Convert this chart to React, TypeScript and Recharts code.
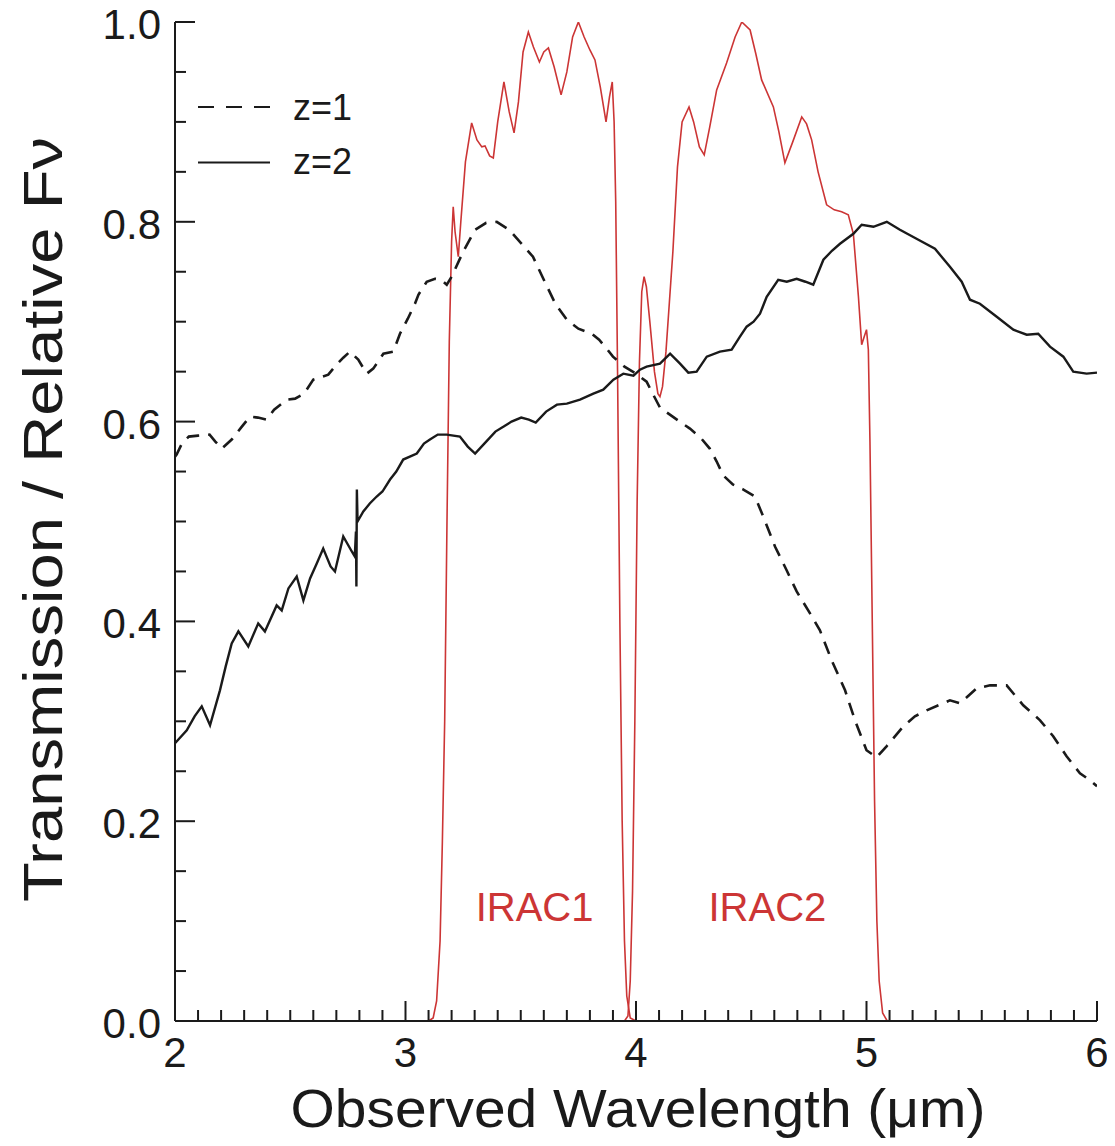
import React from 'react';
import { LineChart, Line, XAxis, YAxis } from 'recharts';

// ---------- data (wavelength in micron, relative value) ----------
const z1Points: [number, number][] = [
  [2.0, 0.565], [2.007, 0.567], [2.03, 0.578], [2.06, 0.585], [2.1, 0.586], [2.15, 0.587],
  [2.175, 0.58], [2.203, 0.573], [2.246, 0.582], [2.29, 0.595], [2.325, 0.605], [2.36, 0.604],
  [2.398, 0.602], [2.43, 0.612], [2.485, 0.622], [2.521, 0.623], [2.56, 0.628], [2.6, 0.642],
  [2.665, 0.647], [2.701, 0.657], [2.73, 0.664], [2.759, 0.67], [2.795, 0.662], [2.832, 0.648],
  [2.86, 0.653], [2.904, 0.668], [2.947, 0.67], [2.976, 0.688], [3.01, 0.703], [3.041, 0.718],
  [3.056, 0.727], [3.092, 0.74], [3.128, 0.743], [3.155, 0.742], [3.179, 0.737], [3.2, 0.745],
  [3.25, 0.77], [3.302, 0.792], [3.35, 0.799], [3.396, 0.8], [3.45, 0.792], [3.504, 0.778],
  [3.553, 0.765], [3.6, 0.742], [3.65, 0.718], [3.7, 0.702], [3.75, 0.693], [3.808, 0.688],
  [3.84, 0.682], [3.873, 0.673], [3.9, 0.665], [3.95, 0.655], [4.0, 0.648], [4.046, 0.64],
  [4.068, 0.63], [4.104, 0.614], [4.147, 0.607], [4.19, 0.6], [4.234, 0.593], [4.28, 0.584],
  [4.32, 0.573], [4.35, 0.56], [4.379, 0.546], [4.42, 0.537], [4.466, 0.532], [4.516, 0.525],
  [4.552, 0.505], [4.603, 0.475], [4.654, 0.451], [4.697, 0.43], [4.755, 0.408], [4.798, 0.391],
  [4.849, 0.361], [4.907, 0.331], [4.95, 0.301], [5.0, 0.271], [5.044, 0.264], [5.087, 0.275],
  [5.16, 0.295], [5.21, 0.305], [5.261, 0.311], [5.362, 0.321], [5.406, 0.318], [5.478, 0.333],
  [5.536, 0.336], [5.608, 0.336], [5.68, 0.316], [5.753, 0.301], [5.81, 0.285], [5.868, 0.265],
  [5.926, 0.248], [5.97, 0.241], [6.0, 0.235],
];

const z2Points: [number, number][] = [
  [2.0, 0.278], [2.051, 0.291], [2.085, 0.305], [2.116, 0.315], [2.152, 0.296], [2.195, 0.331],
  [2.22, 0.355], [2.246, 0.378], [2.275, 0.39], [2.318, 0.375], [2.361, 0.398], [2.39, 0.39],
  [2.441, 0.416], [2.463, 0.411], [2.492, 0.433], [2.528, 0.445], [2.557, 0.421], [2.586, 0.443],
  [2.615, 0.458], [2.643, 0.473], [2.675, 0.455], [2.694, 0.45], [2.73, 0.485], [2.767, 0.47],
  [2.78, 0.465], [2.785, 0.49], [2.787, 0.435], [2.789, 0.532], [2.792, 0.5], [2.817, 0.51],
  [2.845, 0.518], [2.875, 0.525], [2.9, 0.53], [2.933, 0.542], [2.96, 0.55], [2.99, 0.562],
  [3.049, 0.568], [3.08, 0.578], [3.106, 0.582], [3.14, 0.587], [3.179, 0.587], [3.236, 0.585],
  [3.27, 0.575], [3.302, 0.568], [3.35, 0.58], [3.39, 0.59], [3.426, 0.595], [3.46, 0.6],
  [3.502, 0.604], [3.535, 0.602], [3.565, 0.599], [3.61, 0.61], [3.657, 0.617], [3.7, 0.618],
  [3.757, 0.622], [3.815, 0.628], [3.858, 0.632], [3.902, 0.642], [3.945, 0.648], [3.989, 0.646],
  [4.017, 0.652], [4.046, 0.655], [4.104, 0.658], [4.148, 0.668], [4.191, 0.658], [4.227, 0.649],
  [4.263, 0.65], [4.307, 0.665], [4.364, 0.67], [4.415, 0.672], [4.451, 0.685], [4.48, 0.695],
  [4.51, 0.7], [4.538, 0.708], [4.567, 0.725], [4.617, 0.742], [4.654, 0.74], [4.697, 0.743],
  [4.735, 0.74], [4.769, 0.737], [4.813, 0.762], [4.85, 0.771], [4.885, 0.778], [4.943, 0.788],
  [4.979, 0.797], [5.03, 0.795], [5.088, 0.8], [5.145, 0.792], [5.217, 0.783], [5.297, 0.773],
  [5.362, 0.755], [5.413, 0.74], [5.449, 0.722], [5.492, 0.718], [5.565, 0.705], [5.637, 0.692],
  [5.695, 0.687], [5.745, 0.688], [5.796, 0.675], [5.854, 0.665], [5.897, 0.65], [5.955, 0.648],
  [6.0, 0.649],
];

const irac1Points: [number, number][] = [
  [2.85, 0], [3.1, 0], [3.12, 0.003], [3.135, 0.02], [3.15, 0.08], [3.16, 0.18], [3.17, 0.3],
  [3.18, 0.5], [3.19, 0.68], [3.2, 0.78], [3.207, 0.815], [3.215, 0.79], [3.229, 0.765],
  [3.24, 0.8], [3.26, 0.86], [3.287, 0.899], [3.31, 0.882], [3.331, 0.875], [3.345, 0.876],
  [3.365, 0.866], [3.381, 0.864], [3.4, 0.9], [3.427, 0.94], [3.45, 0.91], [3.471, 0.889],
  [3.49, 0.92], [3.51, 0.97], [3.533, 0.99], [3.555, 0.975], [3.581, 0.96], [3.6, 0.97],
  [3.62, 0.974], [3.645, 0.955], [3.675, 0.927], [3.7, 0.95], [3.725, 0.985], [3.75, 1.0],
  [3.775, 0.985], [3.8, 0.972], [3.822, 0.962], [3.845, 0.935], [3.87, 0.9], [3.885, 0.925],
  [3.897, 0.94], [3.905, 0.9], [3.912, 0.82], [3.92, 0.65], [3.93, 0.4], [3.94, 0.2],
  [3.95, 0.08], [3.96, 0.025], [3.975, 0.003], [4.0, 0], [4.2, 0],
];

const irac2Points: [number, number][] = [
  [3.6, 0], [3.95, 0], [3.965, 0.005], [3.975, 0.04], [3.985, 0.13], [3.995, 0.3], [4.005, 0.52],
  [4.015, 0.66], [4.025, 0.73], [4.035, 0.745], [4.045, 0.735], [4.06, 0.7], [4.08, 0.65],
  [4.095, 0.628], [4.104, 0.625], [4.115, 0.635], [4.13, 0.67], [4.145, 0.72], [4.16, 0.77],
  [4.18, 0.855], [4.2, 0.9], [4.23, 0.915], [4.25, 0.9], [4.275, 0.875], [4.296, 0.867],
  [4.32, 0.895], [4.35, 0.932], [4.393, 0.959], [4.43, 0.985], [4.459, 1.0], [4.495, 0.992],
  [4.52, 0.968], [4.545, 0.942], [4.596, 0.915], [4.62, 0.89], [4.646, 0.859], [4.68, 0.88],
  [4.719, 0.905], [4.74, 0.898], [4.762, 0.882], [4.79, 0.85], [4.827, 0.817], [4.86, 0.812],
  [4.892, 0.81], [4.921, 0.807], [4.943, 0.788], [4.965, 0.725], [4.979, 0.677], [4.99, 0.685],
  [5.0, 0.692], [5.008, 0.672], [5.015, 0.58], [5.025, 0.4], [5.035, 0.22], [5.045, 0.1],
  [5.055, 0.04], [5.07, 0.008], [5.09, 0], [5.45, 0],
];

const xMajorTicks = [2, 3, 4, 5, 6];
const yMajorTicks = [0, 0.2, 0.4, 0.6, 0.8, 1.0];
const xAllTicks = Array.from({ length: 41 }, (_, i) => Math.round(20 + i) / 10);
const yAllTicks = Array.from({ length: 21 }, (_, i) => Math.round(i * 5) / 100);

const legendItems = [
  { label: 'z=1', dash: '16 12' },
  { label: 'z=2', dash: undefined as string | undefined },
];
const bandLabels = [
  { label: 'IRAC1', x: 3.56 },
  { label: 'IRAC2', x: 4.57 },
];

const toXY = (pts: [number, number][]) => pts.map(([x, y]) => ({ x, y }));
const z1Data = toXY(z1Points);
const z2Data = toXY(z2Points);
const irac1Data = toXY(irac1Points);
const irac2Data = toXY(irac2Points);

// ---------- layout (chart sits at page y = 0, x = 8) ----------
const W = 1100;
const H = 1143;
const M = { top: 22, right: 11, bottom: 0, left: 0 };
const LEFT_W = 167;
const BOTTOM_H = 122;
const PLOT_L = M.left + LEFT_W;
const PLOT_R = W - M.right;
const PLOT_T = M.top;
const PLOT_B = H - BOTTOM_H;
const xToPx = (v: number) => PLOT_L + ((v - 2) / 4) * (PLOT_R - PLOT_L);

const FONT = '"Liberation Sans", Arial, Helvetica, sans-serif';
const INK = '#1a1a1a';
const RED = '#cc3535';
const MAJOR = 20;
const MINOR = 11;
const TICK_FONT = 42;

const isXMajor = (v: number) => xMajorTicks.includes(Math.round(v * 10) / 10);
const isYMajor = (v: number) => yMajorTicks.includes(Math.round(v * 100) / 100);

const BottomTick = (p: any) => {
  const { x, y, payload } = p;
  const major = isXMajor(payload.value);
  return (
    <g>
      <line x1={x} y1={y} x2={x} y2={y - (major ? MAJOR : MINOR)} stroke={INK} strokeWidth={2} />
      {major && (
        <text x={x} y={y + 46} textAnchor="middle" fontSize={TICK_FONT} fontFamily={FONT} fill={INK}>
          {String(payload.value)}
        </text>
      )}
    </g>
  );
};
const TopTick = (p: any) => {
  const { x, y, payload } = p;
  const major = isXMajor(payload.value);
  return <line x1={x} y1={y} x2={x} y2={y + (major ? MAJOR : MINOR)} stroke={INK} strokeWidth={2} />;
};
const LeftTick = (p: any) => {
  const { x, y, payload } = p;
  const major = isYMajor(payload.value);
  return (
    <g>
      <line x1={x} y1={y} x2={x + (major ? MAJOR : MINOR)} y2={y} stroke={INK} strokeWidth={2} />
      {major && (
        <text x={x - 14} y={y + 17} textAnchor="end" fontSize={TICK_FONT} fontFamily={FONT} fill={INK}>
          {Number(payload.value).toFixed(1)}
        </text>
      )}
    </g>
  );
};
const RightTick = (p: any) => {
  const { x, y, payload } = p;
  const major = isYMajor(payload.value);
  return <line x1={x} y1={y} x2={x - (major ? MAJOR : MINOR)} y2={y} stroke={INK} strokeWidth={2} />;
};

const axisLine = { stroke: INK, strokeWidth: 2 };

export default function App() {
  return (
    <div style={{ width: W, height: H, background: '#fff', marginTop: -8 }}>
      <LineChart width={W} height={H} margin={M}>
        <XAxis
          xAxisId="bottom"
          dataKey="x"
          type="number"
          domain={[2, 6]}
          allowDataOverflow
          ticks={xAllTicks}
          interval={0}
          tickSize={0}
          tickMargin={0}
          tickLine={false}
          axisLine={axisLine}
          height={BOTTOM_H}
          tick={BottomTick}
        />
        <XAxis
          xAxisId="top"
          orientation="top"
          dataKey="x"
          type="number"
          domain={[2, 6]}
          allowDataOverflow
          ticks={xAllTicks}
          interval={0}
          tickSize={0}
          tickMargin={0}
          tickLine={false}
          axisLine={axisLine}
          height={0}
          tick={TopTick}
        />
        <YAxis
          yAxisId="left"
          type="number"
          domain={[0, 1]}
          allowDataOverflow
          ticks={yAllTicks}
          interval={0}
          tickSize={0}
          tickMargin={0}
          tickLine={false}
          axisLine={axisLine}
          width={LEFT_W}
          tick={LeftTick}
        />
        <YAxis
          yAxisId="right"
          orientation="right"
          type="number"
          domain={[0, 1]}
          allowDataOverflow
          ticks={yAllTicks}
          interval={0}
          tickSize={0}
          tickMargin={0}
          tickLine={false}
          axisLine={axisLine}
          width={0}
          tick={RightTick}
        />
        <Line xAxisId="bottom" yAxisId="left" data={irac1Data} dataKey="y" type="linear" dot={false}
          stroke={RED} strokeWidth={1.6} isAnimationActive={false} />
        <Line xAxisId="bottom" yAxisId="left" data={irac2Data} dataKey="y" type="linear" dot={false}
          stroke={RED} strokeWidth={1.6} isAnimationActive={false} />
        <Line xAxisId="bottom" yAxisId="left" data={z1Data} dataKey="y" type="linear" dot={false}
          stroke={INK} strokeWidth={2.6} strokeDasharray="13 9" isAnimationActive={false} />
        <Line xAxisId="bottom" yAxisId="left" data={z2Data} dataKey="y" type="linear" dot={false}
          stroke={INK} strokeWidth={2.4} isAnimationActive={false} />

        {/* axis titles */}
        <text
          transform={`translate(54, ${(PLOT_T + PLOT_B) / 2 - 2}) rotate(-90)`}
          textAnchor="middle"
          fontSize={56}
          fontFamily={FONT}
          fill={INK}
          textLength={765}
          lengthAdjust="spacingAndGlyphs"
        >
          Transmission / Relative Fν
        </text>
        <text
          x={(PLOT_L + PLOT_R) / 2 + 2}
          y={PLOT_B + 106}
          textAnchor="middle"
          fontSize={54}
          fontFamily={FONT}
          fill={INK}
          textLength={695}
          lengthAdjust="spacingAndGlyphs"
        >
          Observed Wavelength (μm)
        </text>

        {/* legend */}
        {legendItems.map((it, i) => (
          <g key={it.label}>
            <line x1={190} x2={262} y1={107 + i * 55.5} y2={107 + i * 55.5} stroke={INK} strokeWidth={2}
              strokeDasharray={it.dash} />
            <text x={285} y={120 + i * 54} fontSize={36} fontFamily={FONT} fill={INK}>{it.label}</text>
          </g>
        ))}

        {/* band labels */}
        {bandLabels.map((b) => (
          <text key={b.label} x={xToPx(b.x)} y={921} textAnchor="middle" fontSize={40} fontFamily={FONT} fill={RED}>
            {b.label}
          </text>
        ))}
      </LineChart>
    </div>
  );
}
